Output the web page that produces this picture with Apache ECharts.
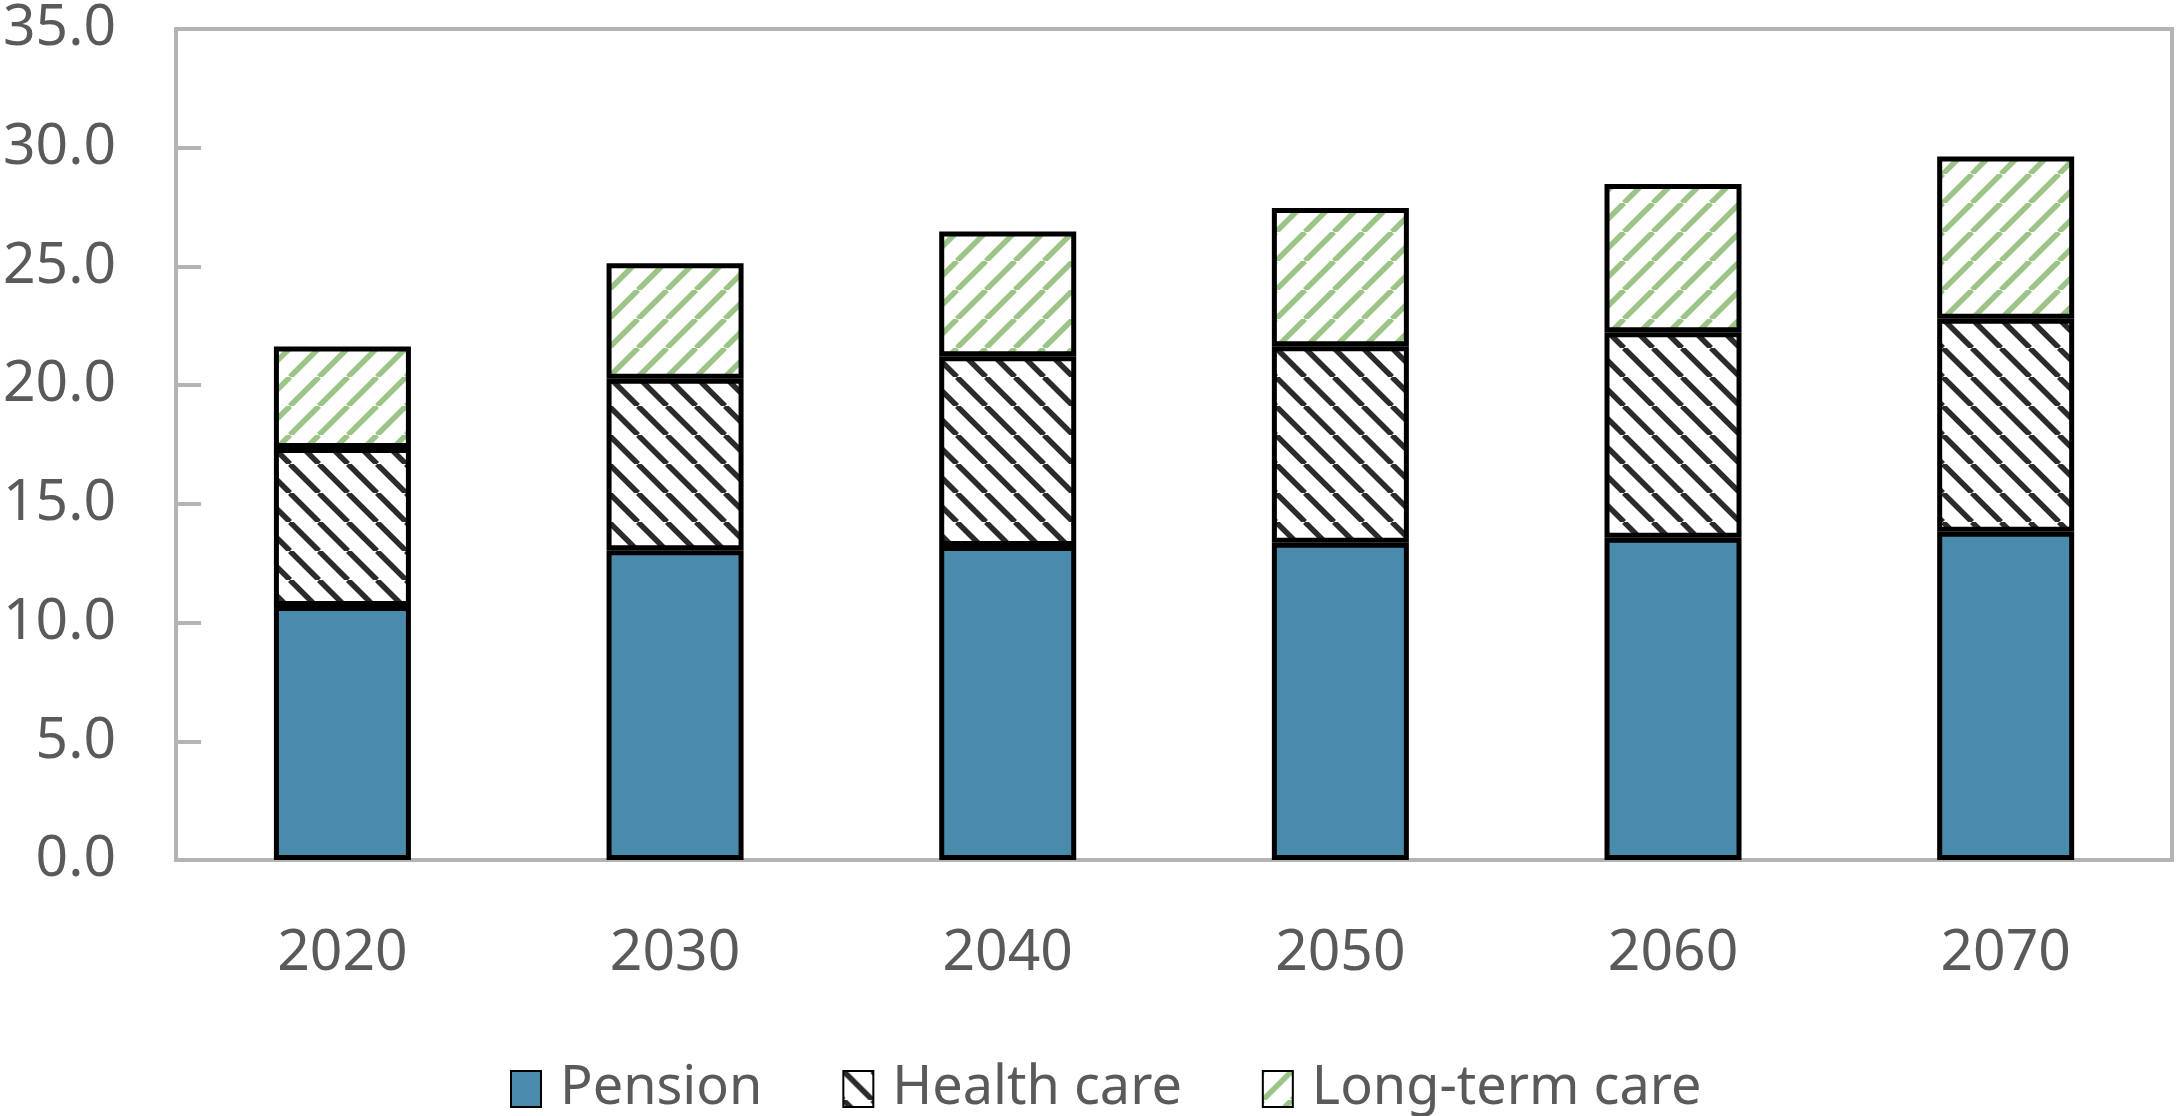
<!DOCTYPE html>
<html>
<head>
<meta charset="utf-8">
<script src="https://cdn.jsdelivr.net/npm/echarts@6/dist/echarts.min.js"></script>
<style>
  html, body { margin: 0; padding: 0; background: #fff; }
  #chart { width: 2177px; height: 1116px; }
</style>
</head>
<body>
<div id="chart"></div>
<script>
const years = ['2020', '2030', '2040', '2050', '2060', '2070']
const pension = [10.70, 13.05, 13.22, 13.36, 13.57, 13.82]
const healthCare = [6.65, 7.22, 8.00, 8.28, 8.66, 8.98]
const longTermCare = [4.28, 4.86, 5.25, 5.82, 6.24, 6.83]
const yMin = 0, yMax = 35, yStep = 5

const FONT = "'Noto Sans', 'Open Sans', sans-serif"
const TEXT = '#5a5a5a'
const FRAME = '#b4b4b4'

// diagonal hatch tile, dir 1 = "\" , -1 = "/"
function hatch (color, dir, size, lw) {
  const c = document.createElement('canvas')
  c.width = size
  c.height = size
  const ctx = c.getContext('2d')
  ctx.fillStyle = '#fff'
  ctx.fillRect(0, 0, size, size)
  ctx.strokeStyle = color
  ctx.lineWidth = lw
  ctx.beginPath()
  for (let k = -1; k <= 1; k++) {
    if (dir > 0) {
      ctx.moveTo(k * size, 0)
      ctx.lineTo(k * size + size, size)
    } else {
      ctx.moveTo(k * size, size)
      ctx.lineTo(k * size + size, 0)
    }
  }
  ctx.stroke()
  return { image: c, repeat: 'repeat' }
}

const barStyle = (color) => ({
  color: color,
  borderColor: '#000',
  borderWidth: 5
})

const chart = echarts.init(document.getElementById('chart'))

chart.setOption({
  animation: false,
  textStyle: { fontFamily: FONT },
  grid: {
    left: 176, right: 5, top: 29, bottom: 256,
    show: true, borderColor: FRAME, borderWidth: 4, backgroundColor: 'transparent'
  },
  legend: {
    left: 505, top: 1057,
    itemWidth: 30, itemHeight: 36, itemGap: 80,
    icon: 'rect',
    textStyle: { fontSize: 54, color: TEXT, fontFamily: FONT, padding: [0, 0, 0, 14] },
    data: ['Pension', 'Health care', 'Long-term care']
  },
  xAxis: {
    type: 'category',
    data: years,
    axisLine: { lineStyle: { color: FRAME, width: 4 } },
    axisTick: { inside: true, length: 25, lineStyle: { color: FRAME, width: 4 } },
    axisLabel: { fontSize: 57, color: TEXT, margin: 65, fontFamily: FONT }
  },
  yAxis: {
    type: 'value',
    min: yMin, max: yMax, interval: yStep,
    splitLine: { show: false },
    axisLine: { show: true, lineStyle: { color: FRAME, width: 4 } },
    axisTick: { show: true, inside: true, length: 25, lineStyle: { color: FRAME, width: 4 } },
    axisLabel: { fontSize: 57, color: TEXT, margin: 60, fontFamily: FONT, formatter: v => v.toFixed(1) }
  },
  series: [
    {
      name: 'Pension', type: 'bar', stack: 'total', barWidth: 137,
      itemStyle: barStyle('#4a8aab'),
      data: pension
    },
    {
      name: 'Health care', type: 'bar', stack: 'total',
      itemStyle: barStyle(hatch('#2b2b2b', 1, 29, 5.5)),
      data: healthCare
    },
    {
      name: 'Long-term care', type: 'bar', stack: 'total',
      itemStyle: barStyle(hatch('#9cc487', -1, 29, 5.5)),
      data: longTermCare
    }
  ]
})
</script>
</body>
</html>
